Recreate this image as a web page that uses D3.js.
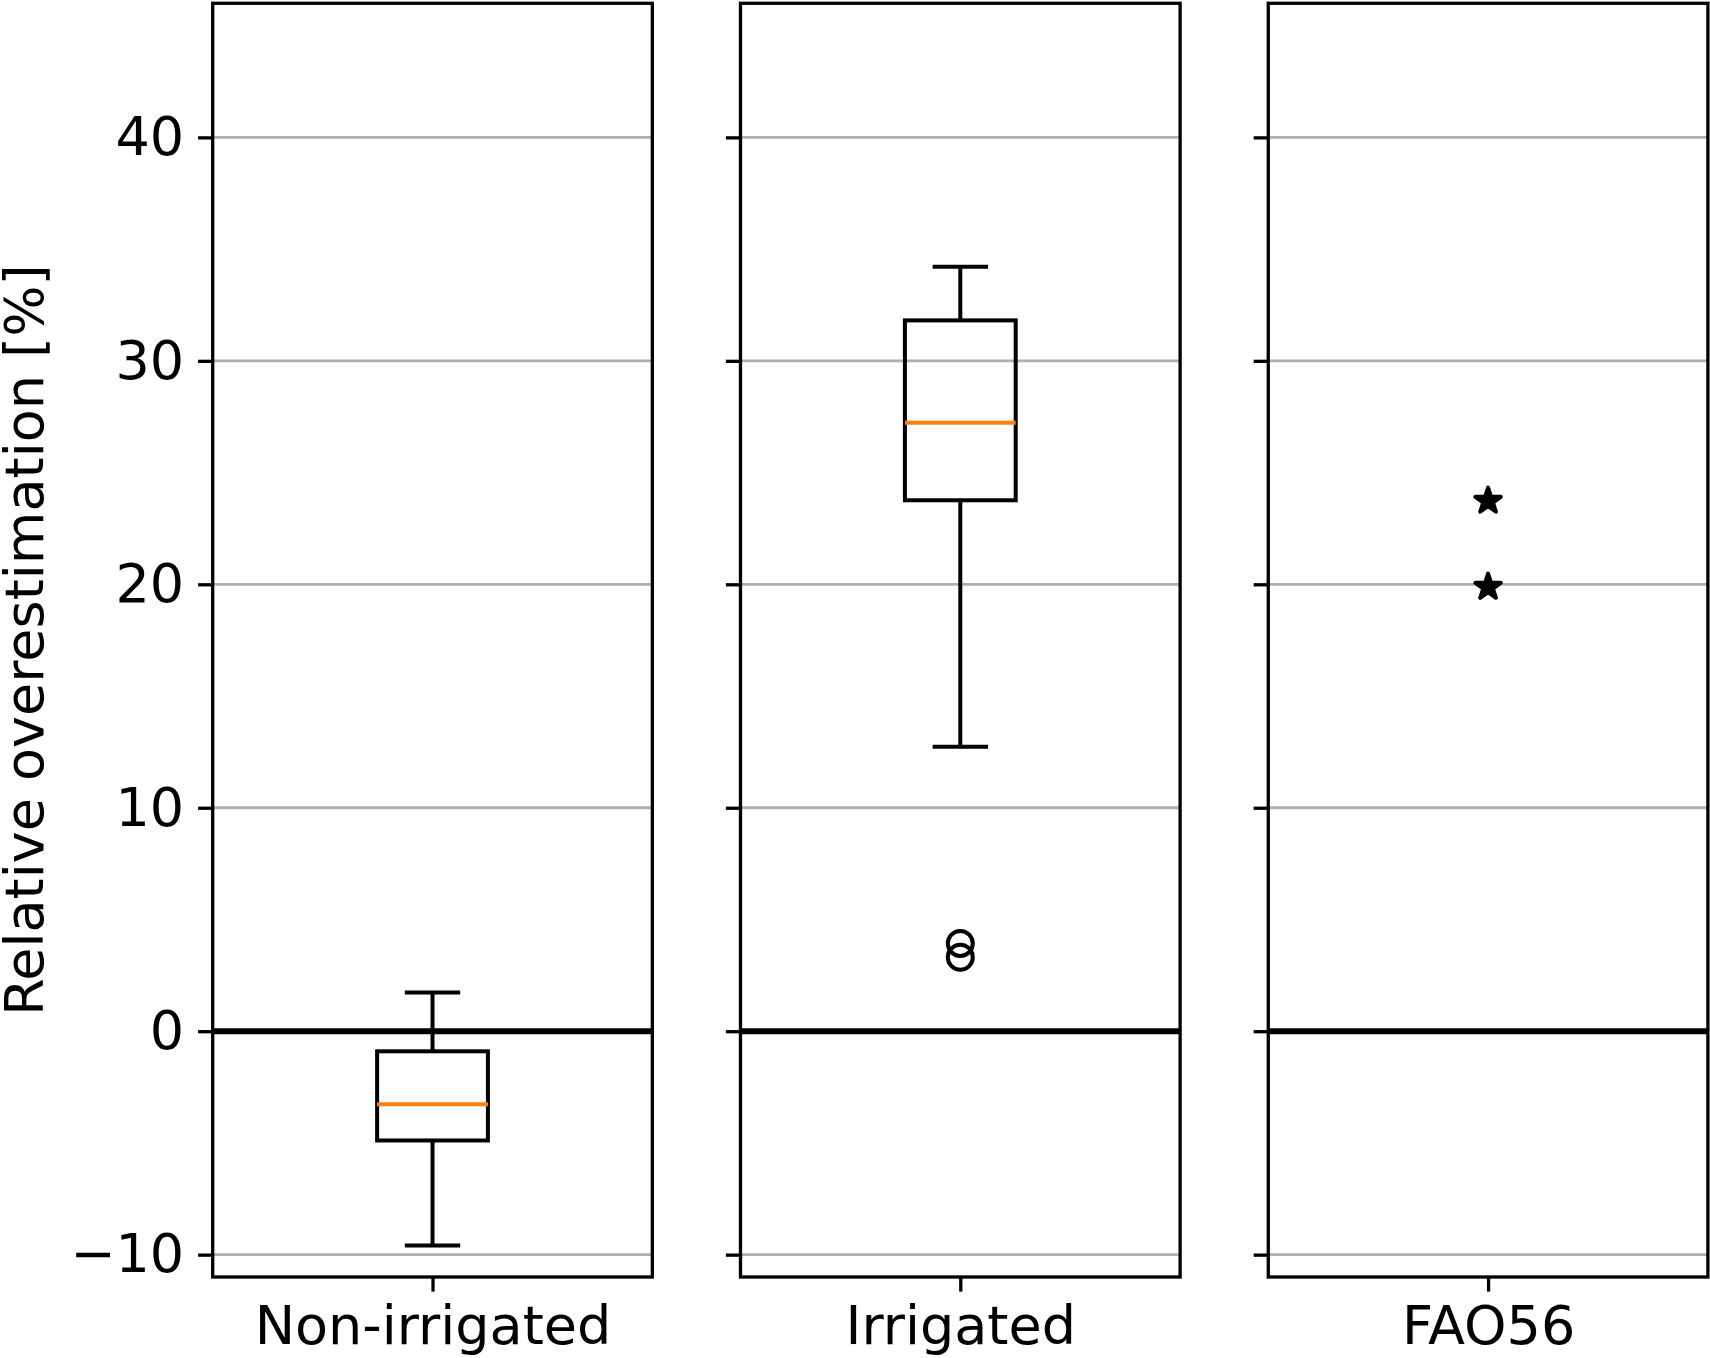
<!DOCTYPE html>
<html>
<head>
<meta charset="utf-8">
<script src="https://cdn.jsdelivr.net/npm/d3@7"></script>
<style>
  body { margin: 0; background: #fff; }
  svg { display: block; font-family: "DejaVu Sans", sans-serif; }
</style>
</head>
<body>
<script>
// values
const categories = ["Non-irrigated", "Irrigated", "FAO56"];

// box statistics for the two box plots (Non-irrigated, Irrigated)
const boxGroups = ["Non-irrigated", "Irrigated"];
const whiskerLow = [-9.59, 12.73];
const q1 = [-4.89, 23.76];
const median = [-3.27, 27.23];
const q3 = [-0.90, 31.81];
const whiskerHigh = [1.73, 34.21];
const irrigatedOutliers = [3.31, 3.93];

// FAO56 single estimates (stars)
const fao56Values = [19.88, 23.73];

const yTicks = [-10, 0, 10, 20, 30, 40];
const yDomain = [-11, 46];

const width = 1710, height = 1358;
const plotTop = 3.3, plotBottom = 1277;
const fontSize = 54;
const tickLen = 14.6;

const svg = d3.select("body").append("svg")
  .attr("width", width)
  .attr("height", height);

const panel = d3.scaleBand()
  .domain(categories)
  .range([212.7, 1707.9])
  .paddingInner(0.167)
  .paddingOuter(0);

const y = d3.scaleLinear().domain(yDomain).range([plotBottom, plotTop]);

categories.forEach((cat, i) => {
  const x0 = panel(cat), w = panel.bandwidth();
  const x = d3.scaleLinear().domain([0.5, 1.5]).range([x0, x0 + w]);
  const g = svg.append("g");

  // grid
  g.append("g")
    .selectAll("line")
    .data(yTicks)
    .join("line")
      .attr("x1", x0).attr("x2", x0 + w)
      .attr("y1", d => y(d)).attr("y2", d => y(d))
      .attr("stroke", "#b0b0b0")
      .attr("stroke-width", 2.8);

  // zero line
  g.append("line")
    .attr("x1", x0).attr("x2", x0 + w)
    .attr("y1", y(0)).attr("y2", y(0))
    .attr("stroke", "#000")
    .attr("stroke-width", 6);

  // y axis
  const yAxis = d3.axisLeft(y)
    .tickValues(yTicks)
    .tickSize(tickLen)
    .tickPadding(14)
    .tickFormat(i === 0 ? (d => d < 0 ? "\u2212" + Math.abs(d) : d) : "");
  const ya = g.append("g")
    .attr("transform", `translate(${x0},0)`)
    .call(yAxis);
  ya.select(".domain").remove();
  ya.selectAll(".tick line").attr("stroke", "#000").attr("stroke-width", 3.3);
  ya.selectAll(".tick text")
    .attr("font-size", fontSize)
    .attr("font-family", "DejaVu Sans")
    .attr("fill", "#000");

  // x axis
  const xAxis = d3.axisBottom(x)
    .tickValues([1])
    .tickSize(tickLen)
    .tickPadding(14)
    .tickFormat(() => cat);
  const xa = g.append("g")
    .attr("transform", `translate(0,${plotBottom})`)
    .call(xAxis);
  xa.select(".domain").remove();
  xa.selectAll(".tick line").attr("stroke", "#000").attr("stroke-width", 3.3);
  xa.selectAll(".tick text")
    .attr("font-size", fontSize)
    .attr("font-family", "DejaVu Sans")
    .attr("fill", "#000");

  // box plot
  const bi = boxGroups.indexOf(cat);
  if (bi >= 0) {
    const bw = 0.126, cw = 0.063;
    const b = g.append("g")
      .attr("stroke", "#000")
      .attr("stroke-width", 4)
      .attr("fill", "none");
    b.append("line")
      .attr("x1", x(1)).attr("x2", x(1))
      .attr("y1", y(whiskerLow[bi])).attr("y2", y(q1[bi]));
    b.append("line")
      .attr("x1", x(1)).attr("x2", x(1))
      .attr("y1", y(q3[bi])).attr("y2", y(whiskerHigh[bi]));
    b.append("line")
      .attr("x1", x(1 - cw)).attr("x2", x(1 + cw))
      .attr("y1", y(whiskerLow[bi])).attr("y2", y(whiskerLow[bi]));
    b.append("line")
      .attr("x1", x(1 - cw)).attr("x2", x(1 + cw))
      .attr("y1", y(whiskerHigh[bi])).attr("y2", y(whiskerHigh[bi]));
    b.append("rect")
      .attr("x", x(1 - bw))
      .attr("width", x(1 + bw) - x(1 - bw))
      .attr("y", y(q3[bi]))
      .attr("height", y(q1[bi]) - y(q3[bi]));
    b.append("line")
      .attr("x1", x(1 - bw)).attr("x2", x(1 + bw))
      .attr("y1", y(median[bi])).attr("y2", y(median[bi]))
      .attr("stroke", "#ff7f0e");
  }

  if (cat === "Irrigated") {
    g.selectAll(".flier")
      .data(irrigatedOutliers)
      .join("circle")
        .attr("cx", x(1))
        .attr("cy", d => y(d))
        .attr("r", 12.5)
        .attr("fill", "none")
        .attr("stroke", "#000")
        .attr("stroke-width", 4);
  }

  if (cat === "FAO56") {
    const star = d3.symbol().type(d3.symbolStar).size(200);
    g.selectAll(".star")
      .data(fao56Values)
      .join("path")
        .attr("d", star)
        .attr("transform", d => `translate(${x(1)},${y(d)})`)
        .attr("fill", "#000")
        .attr("stroke", "#000")
        .attr("stroke-width", 4)
        .attr("stroke-linejoin", "round");
  }

  // frame
  g.append("rect")
    .attr("x", x0).attr("y", plotTop)
    .attr("width", w).attr("height", plotBottom - plotTop)
    .attr("fill", "none")
    .attr("stroke", "#000")
    .attr("stroke-width", 3.3);
});

// y label
svg.append("text")
  .attr("transform", `translate(43,${(plotTop + plotBottom) / 2}) rotate(-90)`)
  .attr("text-anchor", "middle")
  .attr("font-size", fontSize)
  .attr("fill", "#000")
  .text("Relative overestimation [%]");
</script>
</body>
</html>
